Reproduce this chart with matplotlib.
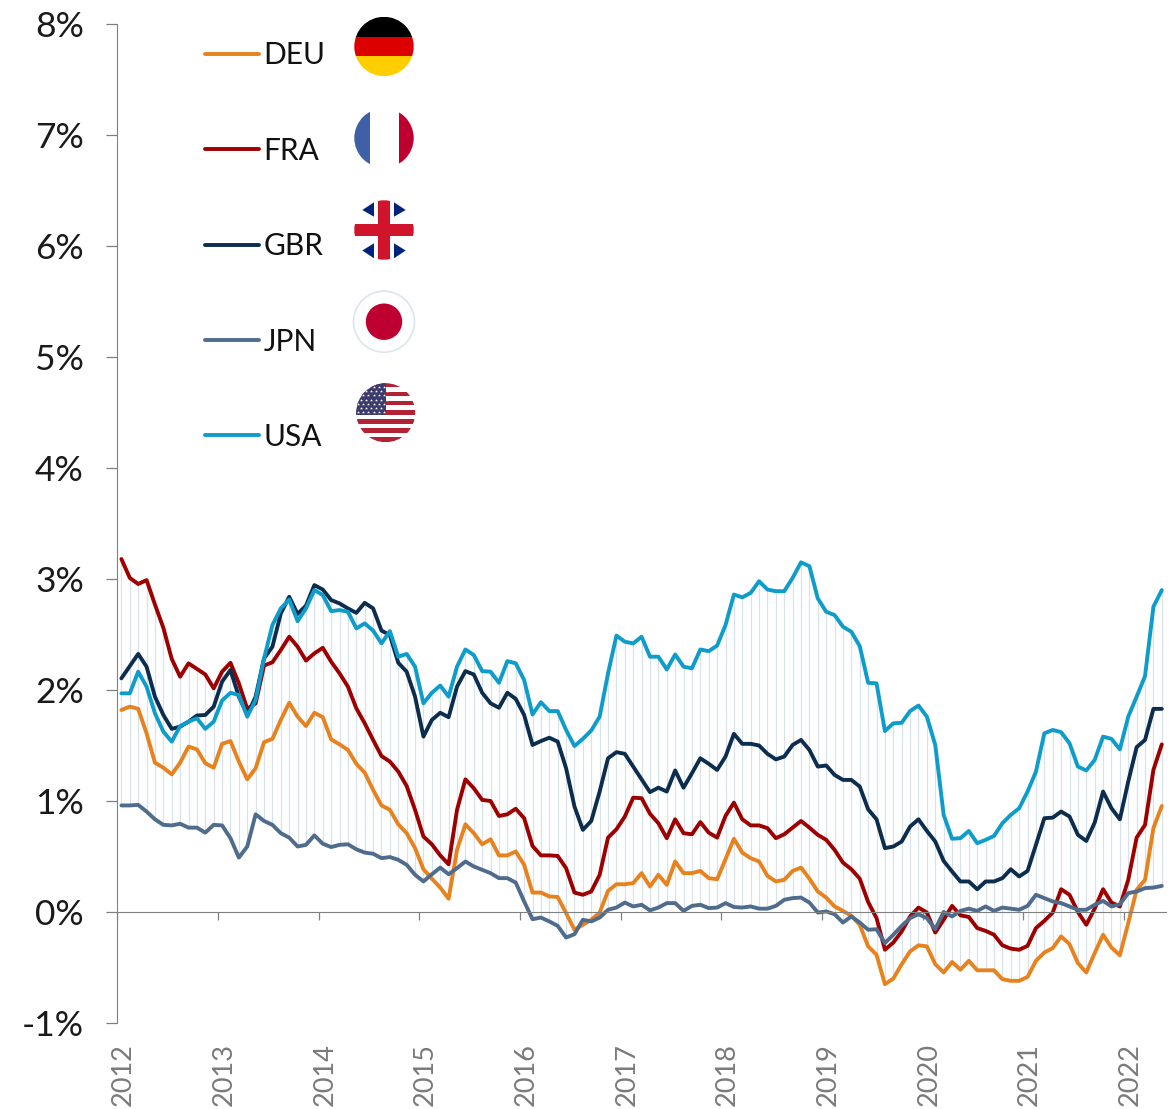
import numpy as np
import matplotlib
matplotlib.use("Agg")
import matplotlib.pyplot as plt
from matplotlib.patches import Circle, Rectangle, Polygon

plt.rcParams['font.family'] = ['Lato', 'DejaVu Sans']

years = [2012, 2013, 2014, 2015, 2016, 2017, 2018, 2019, 2020, 2021, 2022]
pct_ticks = [-1, 0, 1, 2, 3, 4, 5, 6, 7, 8]

# monthly values, Jan 2012 to May 2022
deu = [1.82, 1.85, 1.83, 1.61, 1.345, 1.30, 1.24, 1.345, 1.49, 1.465, 1.34, 1.30,
       1.515, 1.54, 1.355, 1.195, 1.295, 1.53, 1.56, 1.73, 1.885, 1.76, 1.675, 1.795,
       1.755, 1.555, 1.51, 1.46, 1.335, 1.255, 1.10, .96, .92, .79, .71, .575,
       .385, .30, .22, .12, .56, .79, .71, .61, .655, .51, .51, .545,
       .425, .175, .175, .14, .135, -.01, -.16, -.115, -.07, -.005, .19, .25,
       .25, .26, .35, .23, .335, .245, .455, .35, .35, .37, .305, .295,
       .475, .66, .535, .485, .455, .325, .275, .29, .37, .40, .30, .185,
       .13, .05, .01, -.035, -.115, -.31, -.385, -.65, -.60, -.47, -.355, -.30,
       -.31, -.47, -.545, -.45, -.52, -.44, -.525, -.525, -.525, -.605, -.62, -.62,
       -.585, -.44, -.365, -.325, -.22, -.29, -.46, -.545, -.37, -.205, -.32, -.39,
       -.10, .20, .29, .755, .955]
fra = [3.18, 3.01, 2.955, 2.99, 2.77, 2.56, 2.28, 2.12, 2.24, 2.19, 2.14, 2.015,
       2.165, 2.245, 2.06, 1.83, 1.88, 2.22, 2.25, 2.36, 2.48, 2.39, 2.265, 2.33,
       2.38, 2.255, 2.15, 2.03, 1.835, 1.70, 1.55, 1.405, 1.355, 1.265, 1.135, .92,
       .68, .61, .51, .43, .92, 1.195, 1.115, 1.01, 1.00, .865, .88, .93,
       .845, .595, .51, .51, .505, .395, .175, .155, .185, .335, .67, .745,
       .86, 1.03, 1.025, .885, .80, .665, .835, .71, .70, .81, .715, .67,
       .865, .985, .835, .78, .78, .755, .665, .70, .76, .82, .76, .695,
       .65, .56, .445, .385, .30, .09, -.055, -.34, -.275, -.175, -.04, .04,
       -.005, -.185, -.07, .055, -.03, -.045, -.145, -.17, -.205, -.30, -.33, -.34,
       -.305, -.145, -.08, -.005, .205, .155, 0, -.115, .03, .205, .085, .05,
       .29, .67, .785, 1.28, 1.51]
gbr = [2.105, 2.215, 2.325, 2.21, 1.94, 1.775, 1.65, 1.67, 1.715, 1.77, 1.775, 1.85,
       2.075, 2.18, 1.94, 1.775, 1.94, 2.285, 2.39, 2.69, 2.84, 2.685, 2.76, 2.945,
       2.905, 2.81, 2.78, 2.735, 2.695, 2.785, 2.735, 2.535, 2.495, 2.245, 2.165, 1.94,
       1.58, 1.73, 1.795, 1.755, 2.03, 2.17, 2.14, 1.975, 1.88, 1.84, 1.975, 1.92,
       1.775, 1.505, 1.54, 1.57, 1.535, 1.295, .95, .74, .82, 1.085, 1.385, 1.44,
       1.425, 1.31, 1.195, 1.08, 1.12, 1.085, 1.275, 1.12, 1.25, 1.385, 1.335, 1.28,
       1.40, 1.605, 1.515, 1.515, 1.50, 1.425, 1.375, 1.40, 1.505, 1.55, 1.46, 1.31,
       1.32, 1.235, 1.19, 1.19, 1.13, .925, .835, .575, .59, .635, .77, .835,
       .73, .635, .46, .365, .275, .275, .205, .275, .275, .305, .385, .32,
       .37, .605, .845, .85, .905, .86, .695, .64, .805, 1.085, .935, .835,
       1.175, 1.485, 1.55, 1.83, 1.83]
jpn = [.96, .96, .965, .905, .835, .785, .78, .795, .76, .76, .715, .785,
       .78, .665, .49, .59, .88, .82, .785, .71, .67, .59, .605, .69,
       .615, .585, .605, .61, .565, .535, .525, .485, .495, .47, .425, .335,
       .275, .34, .40, .34, .395, .455, .41, .38, .35, .305, .305, .265,
       .095, -.065, -.05, -.085, -.125, -.23, -.20, -.07, -.085, -.05, .02, .04,
       .085, .05, .065, .015, .04, .08, .08, .01, .055, .065, .035, .04,
       .08, .045, .04, .05, .03, .03, .055, .11, .125, .13, .085, -.005,
       .005, -.02, -.095, -.04, -.095, -.16, -.155, -.28, -.205, -.125, -.055, -.02,
       -.055, -.155, 0, -.04, .01, .03, .01, .05, .01, .04, .03, .02,
       .055, .155, .125, .095, .08, .05, .02, .02, .065, .10, .05, .07,
       .17, .185, .215, .22, .235]
usa = [1.97, 1.97, 2.165, 2.03, 1.79, 1.625, 1.535, 1.675, 1.715, 1.745, 1.65, 1.715,
       1.905, 1.975, 1.955, 1.76, 1.91, 2.285, 2.585, 2.735, 2.815, 2.62, 2.735, 2.90,
       2.855, 2.71, 2.72, 2.705, 2.555, 2.60, 2.535, 2.42, 2.53, 2.30, 2.325, 2.21,
       1.88, 1.975, 2.04, 1.94, 2.21, 2.365, 2.315, 2.17, 2.165, 2.065, 2.26, 2.24,
       2.09, 1.78, 1.89, 1.81, 1.81, 1.64, 1.495, 1.56, 1.635, 1.76, 2.15, 2.49,
       2.435, 2.42, 2.48, 2.30, 2.30, 2.185, 2.32, 2.21, 2.195, 2.365, 2.35, 2.40,
       2.585, 2.86, 2.835, 2.875, 2.98, 2.905, 2.89, 2.89, 3.01, 3.15, 3.115, 2.825,
       2.705, 2.675, 2.57, 2.525, 2.395, 2.065, 2.06, 1.63, 1.70, 1.705, 1.81, 1.86,
       1.76, 1.505, .875, .66, .665, .73, .62, .65, .685, .80, .875, .935,
       1.085, 1.265, 1.61, 1.64, 1.62, 1.52, 1.31, 1.275, 1.37, 1.58, 1.56, 1.465,
       1.76, 1.94, 2.125, 2.75, 2.90]

names = ['DEU', 'FRA', 'GBR', 'JPN', 'USA']
colors = ['#E8821E', '#9E0000', '#0C2D4E', '#4F6C8C', '#0E9CCB']
grey = '#808080'

W, H = 1174, 1109
fig = plt.figure(figsize=(W / 100, H / 100), dpi=100)
ax = fig.add_axes([117.2 / W, 1 - 1023 / H, (1166 - 117.2) / W, (1023 - 24) / H])

all_series = np.array([deu, fra, gbr, jpn, usa])
months = np.arange(all_series.shape[1])

# high-low lines between the five series
ax.vlines(months, all_series.min(axis=0), all_series.max(axis=0), color='#D8E2ED', lw=0.9, zorder=1)

for vals, name, c in zip(all_series, names, colors):
    ax.plot(months, vals, color=c, lw=2.8, label=name, zorder=2,
            solid_joinstyle='round', solid_capstyle='round')

ax.set_xlim(-0.5, months[-1] + 0.5)
ax.set_ylim(-1, 8)
ax.set_yticks(pct_ticks)
ax.set_yticklabels([f'{p}%' for p in pct_ticks], fontsize=25.5, color='#1a1a1a')
year_pos = (np.array(years) - years[0]) * 12
ax.set_xticks(year_pos - 0.5)
ax.set_xticklabels([])
ax.tick_params(axis='y', length=8, width=0.9, color=grey, pad=16)
ax.tick_params(axis='x', length=6, width=0.9, color=grey)
ax.spines['top'].set_visible(False)
ax.spines['right'].set_visible(False)
ax.spines['left'].set_color(grey)
ax.spines['bottom'].set_color(grey)
ax.spines['bottom'].set_position(('data', 0))
ax.spines['bottom'].set_zorder(3)

for y, xp in zip(years, year_pos):
    ax.text(xp + 0.25, -1.18, str(y), rotation=90, ha='center', va='top', fontsize=19.5,
            color='#7a7a7a', clip_on=False)

leg = ax.legend(loc='upper left', bbox_to_anchor=(0.0835, 0.9825), frameon=False, borderaxespad=0,
                borderpad=0, fontsize=21.5, handlelength=1.8, handletextpad=0.16, labelspacing=2.256,
                labelcolor='#111111')

# flags, drawn in pixel coordinates on an overlay
ov = fig.add_axes([0, 0, 1, 1], facecolor='none')
ov.set_xlim(0, W)
ov.set_ylim(H, 0)
ov.axis('off')

def clipped(patch, clip):
    ov.add_patch(patch)
    patch.set_clip_path(clip)
    return patch

def disc(cx, cy, r):
    c = Circle((cx, cy), r, transform=ov.transData, fc='none', ec='none')
    ov.add_patch(c)
    return c

# Germany
c = disc(384, 46.5, 29.7)
for i, col in enumerate(['#000000', '#DD0000', '#FFCE00']):
    clipped(Rectangle((350, 16.8 + i * 19.8), 70, 19.8, fc=col, ec='none'), c)

# France
c = disc(384, 138, 29.7)
clipped(Rectangle((350, 100), 20, 80, fc='#3F5FA6', ec='none'), c)
clipped(Rectangle((399, 100), 20, 80, fc='#BD0030', ec='none'), c)

# UK
c = disc(384, 230, 29.7)
for tri in [[(362.3, 210), (374, 202.3), (374, 216.7)], [(394, 202.3), (394, 216.7), (405.7, 210)],
            [(362.3, 250.5), (374, 243.3), (374, 258.3)], [(394, 243.3), (394, 258.3), (405.7, 250.5)]]:
    ov.add_patch(Polygon(tri, fc='#00247D', ec='none'))
clipped(Rectangle((350, 224), 70, 12, fc='#CF142B', ec='none'), c)
clipped(Rectangle((378, 195), 12, 70, fc='#CF142B', ec='none'), c)

# Japan
ov.add_patch(Circle((384, 321.7), 30.5, fc='white', ec='#DCE5EE', lw=1.2))
ov.add_patch(Circle((384, 321.7), 18.2, fc='#BD0030', ec='none'))

# USA
c = disc(385.7, 412.7, 29.5)
for k in range(7):
    clipped(Rectangle((350, 382.5 + k * 9.15), 70, 4.6, fc='#B22234', ec='none'), c)
clipped(Rectangle((350, 380), 35.5, 35, fc='#3C3B6E', ec='none'), c)
star_x, star_y = [], []
for r in range(7):
    for s in range(6):
        star_x.append(358 + s * 5.2 + (r % 2) * 2.6)
        star_y.append(387 + r * 4.2)
stars = ov.scatter(star_x, star_y, s=5, marker='*', color='white', linewidths=0)
stars.set_clip_path(c)

fig.savefig('out.png', dpi=100)
